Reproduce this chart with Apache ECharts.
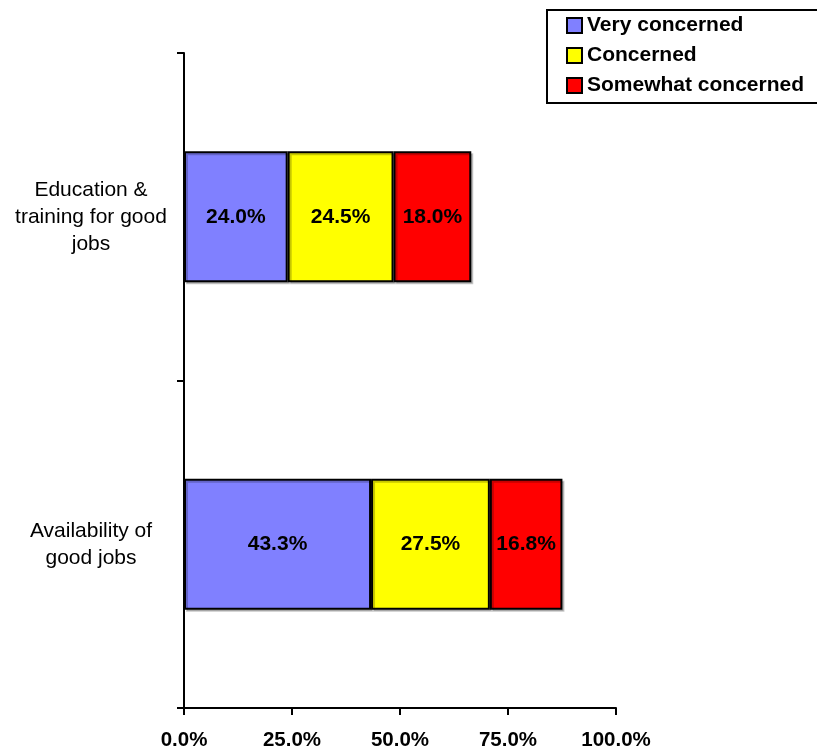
<!DOCTYPE html>
<html>
<head>
<meta charset="utf-8">
<script src="https://cdn.jsdelivr.net/npm/echarts@6/dist/echarts.min.js"></script>
<style>
html,body{margin:0;padding:0;background:#fff;}
#chart{width:817px;height:751px;}
</style>
</head>
<body>
<div id="chart"></div>
<script>
var categories = ['Availability of\ngood jobs', 'Education &\ntraining for good\njobs'];
var seriesNames = ['Very concerned', 'Concerned', 'Somewhat concerned'];
var veryConcerned = [43.3, 24.0];
var concerned = [27.5, 24.5];
var somewhatConcerned = [16.8, 18.0];
var xTicks = [0, 25, 50, 75, 100];
var colors = ['#8080FF', '#FFFF00', '#FF0000'];

var FONT = '"Liberation Sans", Arial, sans-serif';
var chart = echarts.init(document.getElementById('chart'));

function mk(name, data, color) {
  return {
    name: name,
    type: 'bar',
    stack: 'total',
    data: data,
    barWidth: '40%',
    itemStyle: {
      color: color,
      borderColor: '#000',
      borderWidth: 2,
      shadowColor: 'rgba(0,0,0,0.22)',
      shadowOffsetX: 2,
      shadowOffsetY: 2,
      shadowBlur: 0
    },
    label: {
      show: true,
      position: 'inside',
      color: '#000',
      fontFamily: FONT,
      fontWeight: 'bold',
      fontSize: 21,
      formatter: function (p) { return p.value.toFixed(1) + '%'; }
    },
    emphasis: { disabled: true },
    animation: false
  };
}

chart.setOption({
  backgroundColor: '#fff',
  animation: false,
  grid: { left: 184, right: 201, top: 53, bottom: 42, containLabel: false },
  legend: {
    orient: 'vertical',
    left: 547,
    top: 10,
    padding: [5, 40, 7, 19],
    borderColor: '#000',
    borderWidth: 2,
    itemWidth: 15,
    itemHeight: 15,
    itemGap: 9,
    icon: 'rect',
    itemStyle: { borderColor: '#000', borderWidth: 2, shadowBlur: 0, shadowOffsetX: 0, shadowOffsetY: 0, shadowColor: 'transparent' },
    textStyle: { fontFamily: FONT, fontWeight: 'bold', fontSize: 21, color: '#000', lineHeight: 20 },
    data: seriesNames
  },
  xAxis: {
    type: 'value',
    min: xTicks[0],
    max: xTicks[xTicks.length - 1],
    interval: xTicks[1] - xTicks[0],
    splitLine: { show: false },
    axisLine: { show: true, lineStyle: { color: '#000', width: 2 } },
    axisTick: { show: true, length: 7, lineStyle: { color: '#000', width: 2 } },
    axisLabel: {
      margin: 22,
      color: '#000',
      fontFamily: FONT,
      fontWeight: 'bold',
      fontSize: 20.5,
      formatter: function (v) { return v.toFixed(1) + '%'; }
    }
  },
  yAxis: {
    type: 'category',
    data: categories,
    axisLine: { show: true, lineStyle: { color: '#000', width: 2 } },
    axisTick: { show: true, length: 7, lineStyle: { color: '#000', width: 2 } },
    axisLabel: {
      margin: 93,
      align: 'center',
      color: '#000',
      fontFamily: FONT,
      fontSize: 21,
      lineHeight: 27
    }
  },
  series: [
    mk(seriesNames[0], veryConcerned, colors[0]),
    mk(seriesNames[1], concerned, colors[1]),
    mk(seriesNames[2], somewhatConcerned, colors[2])
  ]
});
</script>
</body>
</html>
